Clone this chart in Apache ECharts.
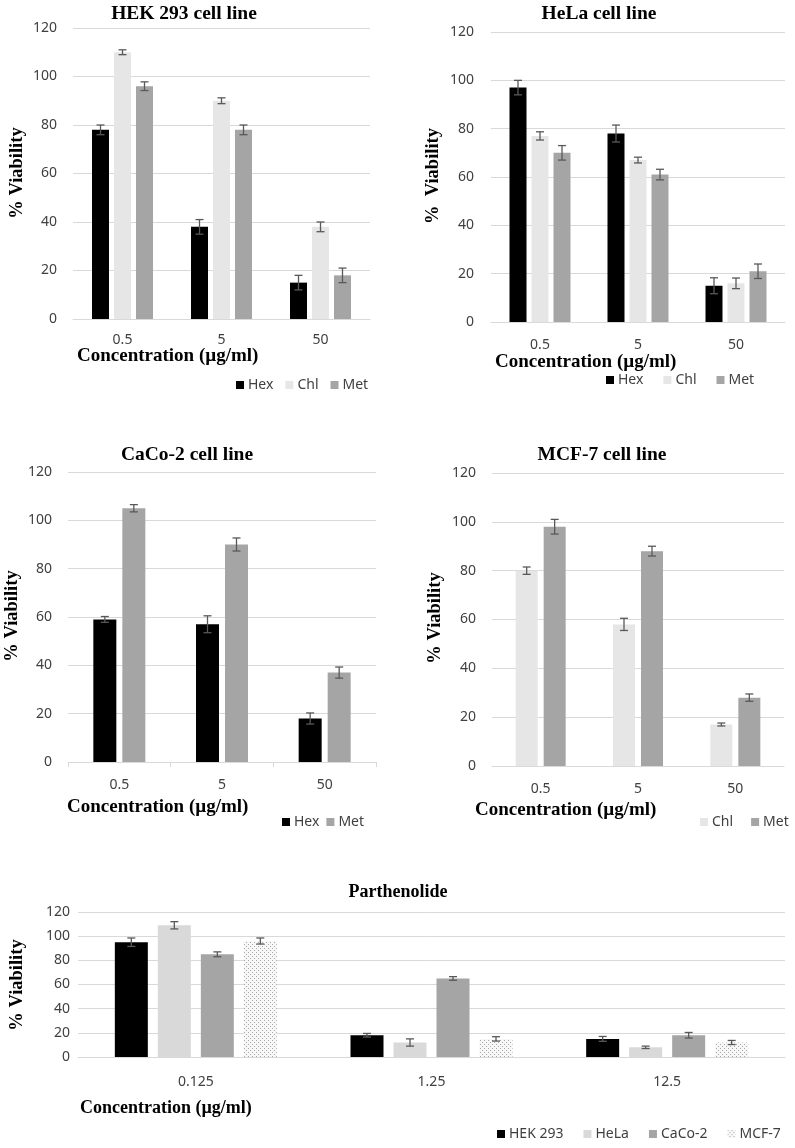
<!DOCTYPE html>
<html><head><meta charset="utf-8">
<script src="https://cdn.jsdelivr.net/npm/echarts@6.0.0/dist/echarts.min.js"></script>
<style>html,body{margin:0;padding:0;background:#fff}#c{width:795px;height:1148px}</style>
</head><body><div id="c"></div><script>
const concTop = ['0.5', '5', '50'];
const concParth = ['0.125', '1.25', '12.5'];
const yTicks = [0, 20, 40, 60, 80, 100, 120];

// HEK 293 cell line
const hekHex = [78, 38, 15], hekHexErr = [2, 3, 3];
const hekChl = [110, 90, 38], hekChlErr = [1, 1.2, 2];
const hekMet = [96, 78, 18], hekMetErr = [1.8, 2, 3];
// HeLa cell line
const helaHex = [97, 78, 15], helaHexErr = [3, 3.5, 3.3];
const helaChl = [77, 67, 16], helaChlErr = [1.7, 1.2, 2.2];
const helaMet = [70, 61, 21], helaMetErr = [3, 2.2, 3];
// CaCo-2 cell line
const cacoHex = [59, 57, 18], cacoHexErr = [1.2, 3.5, 2.3];
const cacoMet = [105, 90, 37], cacoMetErr = [1.5, 2.7, 2.3];
// MCF-7 cell line
const mcfChl = [80, 58, 17], mcfChlErr = [1.5, 2.5, 0.6];
const mcfMet = [98, 88, 28], mcfMetErr = [3, 2, 1.5];
// Parthenolide
const pHek = [95, 18, 15], pHekErr = [3.5, 1.5, 2];
const pHela = [109, 12, 8], pHelaErr = [3, 3, 1];
const pCaco = [85, 65, 18], pCacoErr = [2, 1.5, 2.3];
const pMcf = [96, 15, 12], pMcfErr = [2.5, 1.8, 1.7];

const BLACK = '#000000', LIGHT = '#e7e6e6', MID = '#a5a5a5', HELA_P = '#d9d9d9';
const pc = document.createElement('canvas'); pc.width = 4; pc.height = 4;
const g = pc.getContext('2d');
g.fillStyle = '#f7f7f7'; g.fillRect(0, 0, 4, 4);
g.fillStyle = '#a8a8a8'; g.fillRect(0, 0, 1, 1); g.fillRect(2, 2, 1, 1);
const MCF_PAT = { image: pc, repeat: 'repeat' };

const sansFont = 'Noto Sans';
const serif = 'Liberation Serif';

const grids = [
  { left: 73, top: 28, width: 297, height: 291 },
  { left: 491, top: 32, width: 294, height: 290 },
  { left: 68, top: 472, width: 308, height: 290 },
  { left: 492, top: 473, width: 292, height: 293 },
  { left: 78, top: 912, width: 707, height: 145 }
];
const xMargins = [14, 16, 16, 16, 18];
const yMargins = [16, 17, 16, 16, 8];

const xAxes = grids.map((gr, i) => ({
  type: 'category', gridIndex: i, data: i === 4 ? concParth : concTop,
  axisLine: { lineStyle: { color: '#d9d9d9', width: 1 } },
  axisTick: { show: i === 2, length: 5, lineStyle: { color: '#d9d9d9' } },
  axisLabel: { margin: xMargins[i], fontSize: 14, color: '#404040', fontFamily: sansFont }
}));
const yAxes = grids.map((gr, i) => ({
  type: 'value', gridIndex: i, min: yTicks[0], max: yTicks[yTicks.length - 1],
  interval: yTicks[1] - yTicks[0],
  axisLine: { show: false }, axisTick: { show: false },
  splitLine: { lineStyle: { color: '#d9d9d9', width: 1 } },
  axisLabel: { margin: yMargins[i], fontSize: 14, color: '#404040', fontFamily: sansFont }
}));

const series = [];
function addGroup(ai, items, bw, gap) {
  const n = items.length;
  items.forEach((it, idx) => {
    series.push({
      type: 'bar', name: it.name, xAxisIndex: ai, yAxisIndex: ai, data: it.vals,
      barWidth: bw, barGap: (gap / bw * 100) + '%', silent: true,
      itemStyle: { color: it.color }
    });
  });
  items.forEach((it, idx) => {
    series.push({
      type: 'custom', name: 'err' + ai + '_' + idx, xAxisIndex: ai, yAxisIndex: ai, z: 10, silent: true,
      encode: { x: 0, y: 1 },
      data: it.vals.map((v, i) => [i, v, it.errs[i]]),
      renderItem(params, api) {
        const c = api.coord([api.value(0), api.value(1)]);
        const off = (idx - (n - 1) / 2) * (bw + gap);
        const x = c[0] + off;
        const yt = api.coord([api.value(0), api.value(1) + api.value(2)])[1];
        const yb = api.coord([api.value(0), api.value(1) - api.value(2)])[1];
        const h = 4;
        const st = { stroke: '#595959', lineWidth: 1.3 };
        return { type: 'group', children: [
          { type: 'line', shape: { x1: x, y1: yt, x2: x, y2: yb }, style: st },
          { type: 'line', shape: { x1: x - h, y1: yt, x2: x + h, y2: yt }, style: st },
          { type: 'line', shape: { x1: x - h, y1: yb, x2: x + h, y2: yb }, style: st }
        ] };
      }
    });
  });
}
addGroup(0, [
  { name: 'Hex', vals: hekHex, errs: hekHexErr, color: BLACK },
  { name: 'Chl', vals: hekChl, errs: hekChlErr, color: LIGHT },
  { name: 'Met', vals: hekMet, errs: hekMetErr, color: MID }], 17, 5);
addGroup(1, [
  { name: 'Hex', vals: helaHex, errs: helaHexErr, color: BLACK },
  { name: 'Chl', vals: helaChl, errs: helaChlErr, color: LIGHT },
  { name: 'Met', vals: helaMet, errs: helaMetErr, color: MID }], 17, 5);
addGroup(2, [
  { name: 'Hex', vals: cacoHex, errs: cacoHexErr, color: BLACK },
  { name: 'Met', vals: cacoMet, errs: cacoMetErr, color: MID }], 23, 6);
addGroup(3, [
  { name: 'Chl', vals: mcfChl, errs: mcfChlErr, color: LIGHT },
  { name: 'Met', vals: mcfMet, errs: mcfMetErr, color: MID }], 22, 6);
addGroup(4, [
  { name: 'HEK 293', vals: pHek, errs: pHekErr, color: BLACK },
  { name: 'HeLa', vals: pHela, errs: pHelaErr, color: HELA_P },
  { name: 'CaCo-2', vals: pCaco, errs: pCacoErr, color: MID },
  { name: 'MCF-7', vals: pMcf, errs: pMcfErr, color: MCF_PAT }], 33, 10);

function legend(data, left, top, gap) {
  return {
    data, left, top, itemGap: gap, padding: 0, itemWidth: 8, itemHeight: 8, icon: 'rect',
    selectedMode: false,
    textStyle: { fontSize: 14, color: '#404040', fontFamily: sansFont, padding: [0, 0, 0, -1] }
  };
}
const legends = [
  legend(['Hex', 'Chl', 'Met'], 236, 378, 12),
  legend(['Hex', 'Chl', 'Met'], 606, 373, 20),
  legend(['Hex', 'Met'], 282, 815, 7),
  legend(['Chl', 'Met'], 700, 815, 18),
  legend(['HEK 293', 'HeLa', 'CaCo-2', 'MCF-7'], 497, 1127, 20)
];

function txt(text, x, y, align, size, rot) {
  return {
    type: 'text', x, y, rotation: rot || 0, silent: true,
    style: {
      text, fill: '#000', font: 'bold ' + size + 'px "' + serif + '"',
      textAlign: align, textVerticalAlign: 'middle', align: align, verticalAlign: 'middle'
    }
  };
}
const R = Math.PI / 2;
const graphics = [
  txt('HEK 293 cell line', 184, 14, 'center', 19.5),
  txt('HeLa cell line', 599, 14, 'center', 19.5),
  txt('CaCo-2 cell line', 187, 455, 'center', 19.5),
  txt('MCF-7 cell line', 602, 455, 'center', 19.5),
  txt('Parthenolide', 398, 892, 'center', 18),
  txt('% Viability', 17, 173, 'center', 18.5, R),
  txt('%  Viability', 433, 176, 'center', 18.5, R),
  txt('% Viability', 12, 616, 'center', 18.5, R),
  txt('% Viability', 435, 618, 'center', 18.5, R),
  txt('% Viability', 17, 985, 'center', 18.5, R),
  txt('Concentration (\u00b5g/ml)', 77, 356, 'left', 19),
  txt('Concentration (\u00b5g/ml)', 495, 362, 'left', 19),
  txt('Concentration (\u00b5g/ml)', 67, 807, 'left', 19),
  txt('Concentration (\u00b5g/ml)', 475, 810, 'left', 19),
  txt('Concentration (\u00b5g/ml)', 80, 1108, 'left', 18)
];

const chart = echarts.init(document.getElementById('c'), null, { renderer: 'canvas' });
chart.setOption({
  animation: false,
  backgroundColor: '#ffffff',
  grid: grids,
  xAxis: xAxes,
  yAxis: yAxes,
  legend: legends,
  series,
  graphic: graphics
});
</script></body></html>
